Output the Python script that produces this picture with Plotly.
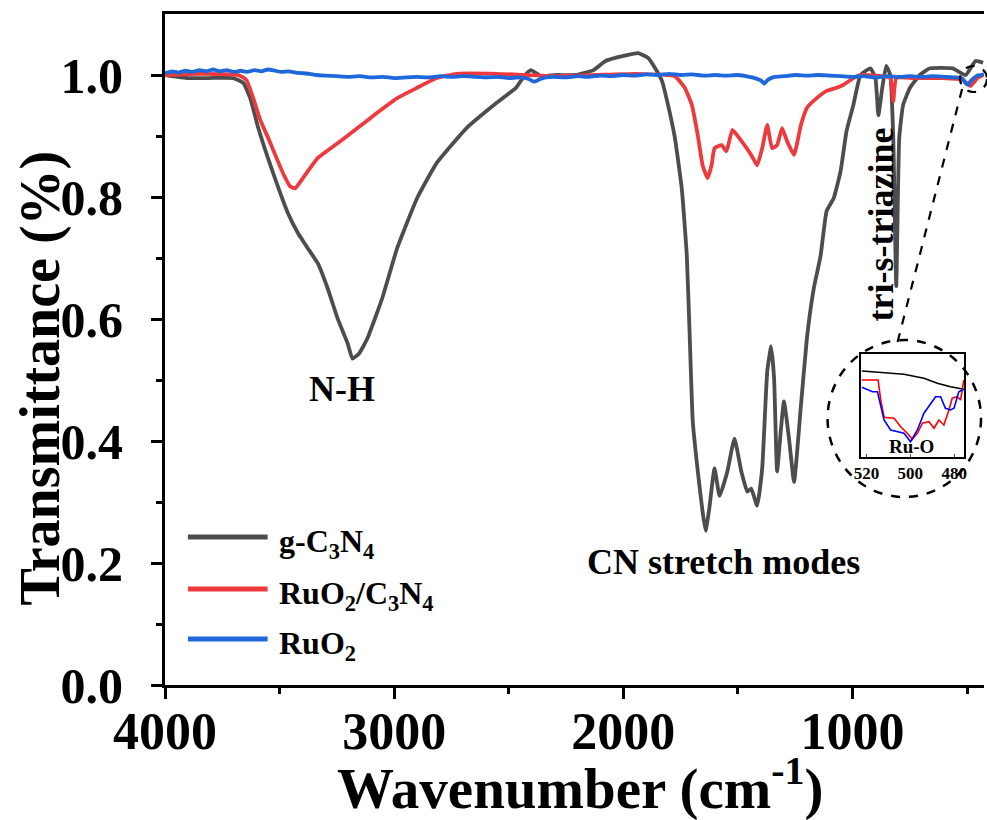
import plotly.graph_objects as go

# ---------------- data ----------------
g_wn = [4000, 3900, 3810, 3701, 3658, 3628, 3593, 3528, 3463, 3420, 3377, 3333, 3290, 3247, 3203, 3182,
        3152, 3117, 3052, 2987, 2900, 2814, 2684, 2554, 2468, 2433, 2403, 2359, 2294, 2208, 2130, 2078,
        2004, 1935, 1892, 1861, 1831, 1805, 1775, 1745, 1723, 1710, 1697, 1675, 1654, 1641, 1625, 1602,
        1580, 1546, 1515, 1485, 1459, 1442, 1416, 1394, 1372, 1355, 1342, 1329, 1312, 1299, 1277, 1255,
        1225, 1199, 1169, 1139, 1113, 1082, 1052, 1026, 996, 965, 922, 900, 887, 870, 853, 835, 822, 809,
        796, 779, 749, 706, 662, 563, 506, 463, 430]
g_T = [1.0, 0.995, 0.995, 0.995, 0.987, 0.962, 0.913, 0.839, 0.773, 0.741, 0.716, 0.691, 0.650, 0.601, 0.560, 0.535,
       0.544, 0.568, 0.634, 0.716, 0.798, 0.856, 0.913, 0.954, 0.979, 0.998, 1.008, 0.998, 1.0, 1.0, 1.008, 1.023,
       1.031, 1.036, 1.028, 1.011, 0.990, 0.951, 0.897, 0.814, 0.704, 0.568, 0.432, 0.350, 0.284, 0.253, 0.289, 0.355,
       0.310, 0.350, 0.404, 0.350, 0.317, 0.322, 0.294, 0.355, 0.514, 0.555, 0.502, 0.350, 0.420, 0.465, 0.404, 0.333,
       0.458, 0.568, 0.650, 0.704, 0.777, 0.798, 0.842, 0.908, 0.951, 1.0, 1.011, 0.995, 0.934, 0.979, 1.015, 1.0, 0.897, 0.654,
       0.897, 0.951, 0.979, 1.0, 1.011, 1.011, 1.0, 1.023, 1.02]

r_wn = [4000, 3853, 3680, 3645, 3615, 3584, 3550, 3485, 3455, 3433, 3398, 3333, 3247, 3160, 3074, 2987,
        2900, 2814, 2727, 2554, 2294, 2121, 1948, 1775, 1732, 1701, 1675, 1654, 1632, 1615, 1602, 1571,
        1550, 1524, 1485, 1442, 1416, 1394, 1372, 1351, 1329, 1307, 1286, 1255, 1225, 1199, 1156, 1113,
        1069, 1039, 996, 965, 866, 835, 822, 809, 736, 606, 519, 485, 455, 430]
r_T = [1.0, 1.002, 1.0, 0.992, 0.962, 0.926, 0.897, 0.839, 0.818, 0.814, 0.831, 0.864, 0.888, 0.913, 0.938, 0.962,
       0.979, 0.995, 1.002, 1.002, 0.998, 1.0, 1.002, 0.998, 0.979, 0.951, 0.901, 0.852, 0.831, 0.852, 0.880, 0.885,
       0.875, 0.910, 0.892, 0.869, 0.852, 0.880, 0.918, 0.880, 0.885, 0.913, 0.892, 0.869, 0.918, 0.946, 0.962, 0.974,
       0.979, 0.984, 0.995, 1.0, 0.998, 0.995, 0.957, 0.995, 0.995, 0.995, 0.992, 0.982, 0.995, 1.0]

b_wn = [4000, 3970, 3940, 3910, 3880, 3850, 3820, 3790, 3760, 3730, 3700, 3670, 3640, 3610, 3580, 3550,
        3520, 3490, 3460, 3430, 3400, 3370, 3340, 3300, 3250, 3200, 3150, 3100, 3050, 3000, 2950, 2900,
        2850, 2800, 2750, 2700, 2650, 2600, 2550, 2500, 2450, 2410, 2390, 2370, 2340, 2300, 2250, 2200,
        2150, 2100, 2050, 2000, 1950, 1900, 1850, 1800, 1750, 1700, 1650, 1600, 1550, 1500, 1450, 1420,
        1400, 1385, 1370, 1340, 1300, 1250, 1200, 1150, 1100, 1050, 1000, 950, 900, 850, 800, 750,
        700, 650, 600, 550, 520, 505, 495, 485, 470, 455, 440, 426]
b_T = [1.003, 1.006, 1.004, 1.007, 1.005, 1.008, 1.006, 1.009, 1.006, 1.008, 1.005, 1.007, 1.005, 1.008, 1.006, 1.009,
       1.007, 1.005, 1.006, 1.004, 1.003, 1.002, 1.0, 0.999, 0.998, 0.997, 0.998, 0.996, 0.997, 0.995, 0.996, 0.997,
       0.996, 0.998, 0.997, 0.998, 0.997, 0.996, 0.997, 0.995, 0.996, 0.993, 0.989, 0.992, 0.996, 0.997, 0.996, 0.998,
       0.997, 0.999, 0.998, 1.0, 0.999, 1.001, 1.0, 1.002, 1.0, 1.001, 0.999, 1.0, 0.999, 1.0, 0.997, 0.994,
       0.991, 0.986, 0.992, 0.997, 0.998, 1.0, 0.999, 1.0, 0.999, 0.998, 0.997, 0.998, 0.996, 0.998, 0.997, 0.998,
       0.997, 0.998, 0.997, 0.996, 0.994, 0.986, 0.984, 0.990, 0.995, 0.999, 1.0, 1.001]

# inset (Ru-O region)
ig_wn = [522.1, 512.0, 502.9, 493.8, 487.7, 481.7, 475.6]
ig_T = [0.9932, 0.9925, 0.9919, 0.9903, 0.9883, 0.9869, 0.9859]
ir_wn = [522.1, 514.7, 513.5, 512.0, 507.4, 504.4, 501.4, 499.1, 496.8, 494.5, 491.5, 489.2, 487.0, 484.7,
         482.4, 480.9, 478.6, 477.1, 475.6]
ir_T = [0.9896, 0.9896, 0.9816, 0.9747, 0.9743, 0.9709, 0.9683, 0.9659, 0.9683, 0.9723, 0.9729, 0.9703, 0.9736,
        0.9716, 0.9776, 0.9823, 0.9829, 0.9816, 0.9896]
ib_wn = [522.1, 519.5, 517.3, 515.0, 513.5, 512.0, 509.0, 505.9, 502.9, 499.9, 496.8, 493.8, 490.8, 488.5,
         486.2, 484.0, 481.7, 480.1, 477.9, 475.6]
ib_T = [0.9867, 0.9856, 0.9849, 0.9849, 0.9789, 0.9736, 0.9696, 0.9689, 0.9683, 0.9649, 0.9696, 0.9763, 0.9803,
        0.9829, 0.9829, 0.9783, 0.9776, 0.9783, 0.9849, 0.9859]

series_names = ["g-C<sub>3</sub>N<sub>4</sub>", "RuO<sub>2</sub>/C<sub>3</sub>N<sub>4</sub>", "RuO<sub>2</sub>"]
series_colors = ["#4d4d4d", "#ee3a3d", "#1f68db"]
x_ticks = [4000, 3000, 2000, 1000]
y_ticks = [0.0, 0.2, 0.4, 0.6, 0.8, 1.0]
inset_ticks = [520, 500, 480]

# ---------------- layout helpers ----------------
W_FIG, H_FIG = 987, 820
L, T, R, B = 165, 14, 0, 135
PW, PH = W_FIG - L - R, H_FIG - T - B


def fx(x):
    return (x - L) / PW


def fy(y):
    return (T + PH - y) / PH


FONT = "Liberation Serif, Times New Roman, serif"

fig = go.Figure()
for wn, tt, name, col in zip([g_wn, r_wn, b_wn], [g_T, r_T, b_T], series_names, series_colors):
    fig.add_trace(go.Scatter(x=wn, y=tt, mode="lines", name=name,
                             line=dict(color=col, width=3.8, shape="spline", smoothing=0.4),
                             showlegend=False))

for wn, tt, col in zip([ig_wn, ir_wn, ib_wn], [ig_T, ir_T, ib_T], ["#000000", "#ff0000", "#0000ff"]):
    fig.add_trace(go.Scatter(x=wn, y=tt, mode="lines", xaxis="x2", yaxis="y2",
                             line=dict(color=col, width=1.6), showlegend=False))

fig.update_layout(
    width=W_FIG, height=H_FIG,
    margin=dict(l=L, r=R, t=T, b=B),
    paper_bgcolor="white", plot_bgcolor="white",
    font=dict(family=FONT, color="black"),
    xaxis=dict(range=[4000, 4000 - PW / 0.230], tickvals=x_ticks, ticks="outside", ticklen=11, tickwidth=3,
               showline=True, linewidth=3, linecolor="black", mirror=True, showgrid=False, zeroline=False,
               tickfont=dict(family=FONT, size=52, weight="bold"), ticklabelstandoff=-12,
               minor=dict(tickvals=[3500, 2500, 1500, 500], ticks="outside", ticklen=6, tickwidth=3,
                          tickcolor="black"),
               tickcolor="black"),
    yaxis=dict(range=[0, 1.1], tickvals=y_ticks, tickformat=".1f", ticks="outside", ticklen=11, tickwidth=3,
               showline=True, linewidth=3, linecolor="black", showgrid=False, zeroline=False,
               tickfont=dict(family=FONT, size=50, weight="bold"), ticklabelstandoff=18,
               minor=dict(tickvals=[0.1, 0.3, 0.5, 0.7, 0.9], ticks="outside", ticklen=6, tickwidth=3,
                          tickcolor="black"),
               tickcolor="black"),
    xaxis2=dict(domain=[fx(864), fx(967)], anchor="y2", range=[522.3, 475.5], tickvals=inset_ticks,
                ticks="inside", ticklen=3, tickwidth=1, showline=True, linewidth=1.5, linecolor="black",
                mirror=True, showgrid=False, zeroline=False,
                tickfont=dict(family=FONT, size=17, weight="bold"), ticklabelstandoff=0),
    yaxis2=dict(domain=[fy(457), fy(354)], anchor="x2", range=[0.9588, 1.0], showticklabels=False,
                ticks="", showline=True, linewidth=1.5, linecolor="black", mirror=True,
                showgrid=False, zeroline=False),
)

shapes = []
# big dashed circle around the inset
shapes.append(dict(type="circle", xref="paper", yref="paper", x0=fx(830), x1=fx(984), y0=fy(497), y1=fy(340),
                   line=dict(color="black", width=2.5, dash="dash")))
# small dashed circle marking the zoomed region
shapes.append(dict(type="circle", xref="paper", yref="paper", x0=fx(963), x1=fx(990), y0=fy(92), y1=fy(66),
                   line=dict(color="black", width=2.2, dash="dash")))
# connector
shapes.append(dict(type="line", xref="paper", yref="paper", x0=fx(965), y0=fy(89), x1=fx(900), y1=fy(343),
                   line=dict(color="black", width=2.2, dash="dash")))
# manual legend samples
leg_y = [537, 589, 639]
for yy, col in zip(leg_y, series_colors):
    shapes.append(dict(type="line", xref="paper", yref="paper", x0=fx(188), x1=fx(268), y0=fy(yy), y1=fy(yy),
                       line=dict(color=col, width=5)))
fig.update_layout(shapes=shapes)


def label(x, y, text, size, angle=0, xanchor="center"):
    return dict(x=fx(x), y=fy(y), xref="paper", yref="paper", text=text, showarrow=False,
                xanchor=xanchor, yanchor="middle", textangle=angle,
                font=dict(family=FONT, size=size, weight="bold"))


ann = []
for yy, name in zip(leg_y, series_names):
    ann.append(label(277, yy + 6, name, 32, xanchor="left"))
ann.append(label(343, 389, "N-H", 36))
ann.append(label(726, 562, "CN stretch modes", 36))
ann.append(label(884, 224, "tri-s-triazine", 36, angle=-90))
ann.append(label(914, 446, "Ru-O", 19))
ann.append(label(582, 784, "Wavenumber (cm<sup>-1</sup>)", 57))
ann.append(label(40, 378, "Transmittance (%)", 56, angle=-90))
fig.update_layout(annotations=ann)

fig.write_html("out.html")
